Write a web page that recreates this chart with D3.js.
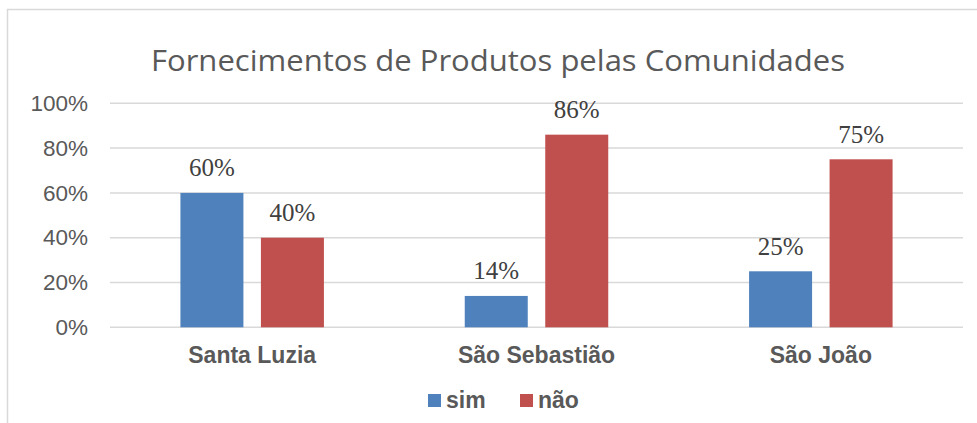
<!DOCTYPE html>
<html>
<head>
<meta charset="utf-8">
<script src="https://cdn.jsdelivr.net/npm/d3@7"></script>
<style>
html,body{margin:0;padding:0;background:#fff;}
svg{display:block;}
</style>
</head>
<body>
<svg id="chart" width="977" height="423"></svg>
<script>
const categories = ["Santa Luzia", "São Sebastião", "São João"];
const seriesNames = ["sim", "não"];
const simValues = [0.60, 0.14, 0.25];
const naoValues = [0.40, 0.86, 0.75];
const tickValues = [0, 0.2, 0.4, 0.6, 0.8, 1.0];
const titleText = "Fornecimentos de Produtos pelas Comunidades";
const colors = {"sim": "#4f81bd", "não": "#c0504d"};

const svg = d3.select("#chart");
const W = 977, H = 423;
svg.append("rect").attr("width", W).attr("height", H).attr("fill", "#fff");

// frame
svg.append("line").attr("x1", 7).attr("x2", W).attr("y1", 9.5).attr("y2", 9.5)
  .attr("stroke", "#d9d9d9").attr("stroke-width", 1.5);
svg.append("line").attr("x1", 7.5).attr("x2", 7.5).attr("y1", 9).attr("y2", H)
  .attr("stroke", "#d9d9d9").attr("stroke-width", 1.5);

const plot = {left: 110, right: 963, top: 103.3, bottom: 327.3};

const y = d3.scaleLinear().domain([0, 1]).range([plot.bottom, plot.top]);
const x = d3.scaleBand().domain(categories).range([plot.left, plot.right]).paddingInner(0).paddingOuter(0);
const groupW = 143.5;
const xs = d3.scaleBand().domain(seriesNames).range([0, groupW]).paddingInner(0.2174).paddingOuter(0);

// title
svg.append("text")
  .attr("x", 498).attr("y", 70.7)
  .attr("text-anchor", "middle")
  .attr("font-family", "'Open Sans', sans-serif")
  .attr("font-weight", 400)
  .attr("font-size", 29.5)
  .attr("fill", "#595959")
  .attr("textLength", 694)
  .attr("lengthAdjust", "spacingAndGlyphs")
  .text(titleText);

// gridlines
svg.append("g").selectAll("line").data(tickValues).join("line")
  .attr("x1", plot.left).attr("x2", plot.right)
  .attr("y1", d => y(d)).attr("y2", d => y(d))
  .attr("stroke", "#d9d9d9").attr("stroke-width", 1.5);

// y axis labels
const yAxis = d3.axisLeft(y).tickValues(tickValues).tickFormat(d3.format(".0%")).tickSize(0).tickPadding(0);
const gy = svg.append("g").attr("transform", `translate(88,0)`).call(yAxis);
gy.select(".domain").remove();
gy.selectAll("text")
  .attr("font-family", "'Liberation Sans', Arial, sans-serif")
  .attr("font-size", 22.5)
  .attr("fill", "#595959");

// x axis labels
const xAxis = d3.axisBottom(x).tickSize(0).tickPadding(0);
const gx = svg.append("g").attr("transform", `translate(0,${plot.bottom})`).call(xAxis);
gx.select(".domain").remove();
gx.selectAll("text")
  .attr("dy", null)
  .attr("y", 36)
  .attr("font-family", "'Liberation Sans', Arial, sans-serif")
  .attr("font-weight", "bold")
  .attr("font-size", 23)
  .attr("fill", "#595959");

// bars
const data = categories.map((c, i) => ({cat: c, vals: [
  {s: "sim", v: simValues[i]}, {s: "não", v: naoValues[i]}]}));
const off = (x.bandwidth() - groupW) / 2;
const groups = svg.append("g").selectAll("g").data(data).join("g")
  .attr("transform", d => `translate(${x(d.cat) + off},0)`);
groups.selectAll("rect").data(d => d.vals).join("rect")
  .attr("x", d => xs(d.s)).attr("width", xs.bandwidth())
  .attr("y", d => y(d.v)).attr("height", d => y(0) - y(d.v))
  .attr("fill", d => colors[d.s]);
groups.selectAll("text").data(d => d.vals).join("text")
  .attr("x", d => xs(d.s) + xs.bandwidth() / 2)
  .attr("y", d => y(d.v) - 16.6)
  .attr("text-anchor", "middle")
  .attr("font-family", "'Liberation Serif', 'Times New Roman', serif")
  .attr("font-size", 25)
  .attr("fill", "#404040")
  .text(d => d3.format(".0%")(d.v));

// legend
const legendItems = [{s: "sim", x: 428}, {s: "não", x: 520}];
const lg = svg.append("g").selectAll("g").data(legendItems).join("g")
  .attr("transform", d => `translate(${d.x},394)`);
lg.append("rect").attr("width", 13).attr("height", 13).attr("fill", d => colors[d.s]);
lg.append("text").attr("x", 18).attr("y", 14)
  .attr("font-family", "'Liberation Sans', Arial, sans-serif")
  .attr("font-weight", "bold")
  .attr("font-size", 23)
  .attr("fill", "#595959")
  .text(d => d.s);
</script>
</body>
</html>
